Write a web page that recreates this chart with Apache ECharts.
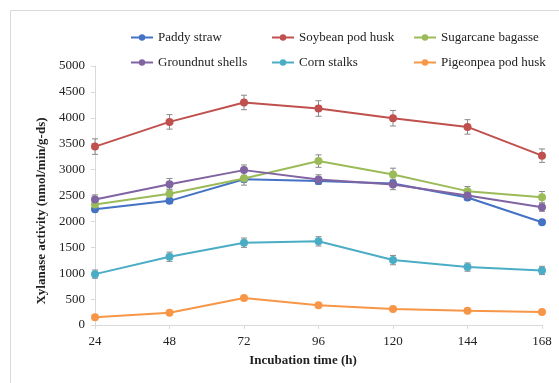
<!DOCTYPE html>
<html><head><meta charset="utf-8">
<script src="https://cdn.jsdelivr.net/npm/echarts@6/dist/echarts.min.js"></script>
<style>html,body{margin:0;padding:0;background:#fff}#c{width:559px;height:383px}</style>
</head><body><div id="c"></div>
<script>
const hours = [24, 48, 72, 96, 120, 144, 168];
const seriesNames = ['Paddy straw', 'Soybean pod husk', 'Sugarcane bagasse', 'Groundnut shells', 'Corn stalks', 'Pigeonpea pod husk'];
const paddy = [2235, 2397, 2815, 2778, 2733, 2461, 1983];
const soybean = [3444, 3921, 4296, 4180, 3992, 3824, 3269];
const sugarcane = [2326, 2533, 2830, 3165, 2907, 2584, 2467];
const groundnut = [2422, 2719, 2990, 2810, 2713, 2500, 2274];
const corn = [982, 1318, 1589, 1615, 1253, 1118, 1053];
const pigeonpea = [149, 238, 523, 381, 310, 277, 252];
const errPaddy = [50, 50, 60, 60, 60, 50, 40];
const errSoybean = [150, 140, 140, 150, 150, 140, 130];
const errSugarcane = [80, 90, 130, 120, 120, 90, 110];
const errGroundnut = [90, 110, 100, 90, 100, 90, 80];
const errCorn = [80, 90, 90, 90, 90, 80, 80];
const errPigeonpea = [20, 25, 30, 25, 20, 20, 20];
const yTicks = [0, 500, 1000, 1500, 2000, 2500, 3000, 3500, 4000, 4500, 5000];

const values = [paddy, soybean, sugarcane, groundnut, corn, pigeonpea];
const errors = [errPaddy, errSoybean, errSugarcane, errGroundnut, errCorn, errPigeonpea];
const colors = ['#4472C4', '#C0504D', '#9BBB59', '#8064A2', '#4BACC6', '#F79646'];
const font = 'Liberation Serif';

const series = [];
values.forEach((vals, i) => {
  series.push({
    type: 'custom', name: seriesNames[i] + ' err', silent: true, z: 1,
    data: hours.map((h, k) => [h, vals[k], errors[i][k]]),
    renderItem: (params, api) => {
      const x = api.value(0), y = api.value(1), e = api.value(2);
      const top = api.coord([x, y + e]), bot = api.coord([x, y - e]);
      const st = {stroke: '#8a8a8a', lineWidth: 1};
      return {type: 'group', children: [
        {type: 'line', shape: {x1: top[0], y1: top[1], x2: bot[0], y2: bot[1]}, style: st},
        {type: 'line', shape: {x1: top[0] - 3, y1: top[1], x2: top[0] + 3, y2: top[1]}, style: st},
        {type: 'line', shape: {x1: bot[0] - 3, y1: bot[1], x2: bot[0] + 3, y2: bot[1]}, style: st}
      ]};
    }
  });
  series.push({
    type: 'line', name: seriesNames[i], z: 3,
    data: hours.map((h, k) => [h, vals[k]]),
    symbol: 'circle', symbolSize: 8,
    itemStyle: {color: colors[i]},
    lineStyle: {color: colors[i], width: 2}
  });
});

const legendCommon = {
  orient: 'vertical', itemWidth: 22, itemHeight: 8, itemGap: 12, padding: 0,
  textStyle: {fontFamily: font, fontSize: 13, color: '#222'},
  itemStyle: {borderWidth: 0},
  selectedMode: false
};

const chart = echarts.init(document.getElementById('c'));
chart.setOption({
  animation: false,
  color: colors,
  grid: {left: 95, right: 17, top: 66, bottom: 58},
  legend: [
    Object.assign({left: 130, top: 31, data: [seriesNames[0], seriesNames[3]]}, legendCommon),
    Object.assign({left: 271, top: 31, data: [seriesNames[1], seriesNames[4]]}, legendCommon),
    Object.assign({left: 413, top: 31, data: [seriesNames[2], seriesNames[5]]}, legendCommon)
  ],
  xAxis: {
    type: 'value', min: 24, max: 168, interval: 24,
    axisLine: {lineStyle: {color: '#d9d9d9'}},
    axisTick: {show: true, length: 4, lineStyle: {color: '#d9d9d9'}},
    axisLabel: {fontFamily: font, fontSize: 13, color: '#222', margin: 10},
    splitLine: {show: false}
  },
  yAxis: {
    type: 'value', min: 0, max: 5000, interval: 500,
    axisLine: {show: true, lineStyle: {color: '#d9d9d9'}},
    axisTick: {show: true, length: 4, lineStyle: {color: '#d9d9d9'}},
    axisLabel: {fontFamily: font, fontSize: 13, color: '#222', margin: 10,
      formatter: v => yTicks.includes(v) ? String(v) : ''},
    splitLine: {show: false}
  },
  graphic: [
    {type: 'rect', shape: {x: 10.5, y: 10.5, width: 600, height: 400}, style: {fill: 'none', stroke: '#d9d9d9', lineWidth: 1}, silent: true},
    {type: 'text', x: 42, y: 211, rotation: Math.PI / 2,
      style: {text: 'Xylanase activity (nmol/min/g-ds)', fontFamily: font, fontSize: 13, fontWeight: 'bold', fill: '#222', align: 'center', verticalAlign: 'middle'}},
    {type: 'text', x: 303, y: 361,
      style: {text: 'Incubation time (h)', fontFamily: font, fontSize: 13, fontWeight: 'bold', fill: '#222', align: 'center', verticalAlign: 'middle'}}
  ],
  series: series
});
</script></body></html>
